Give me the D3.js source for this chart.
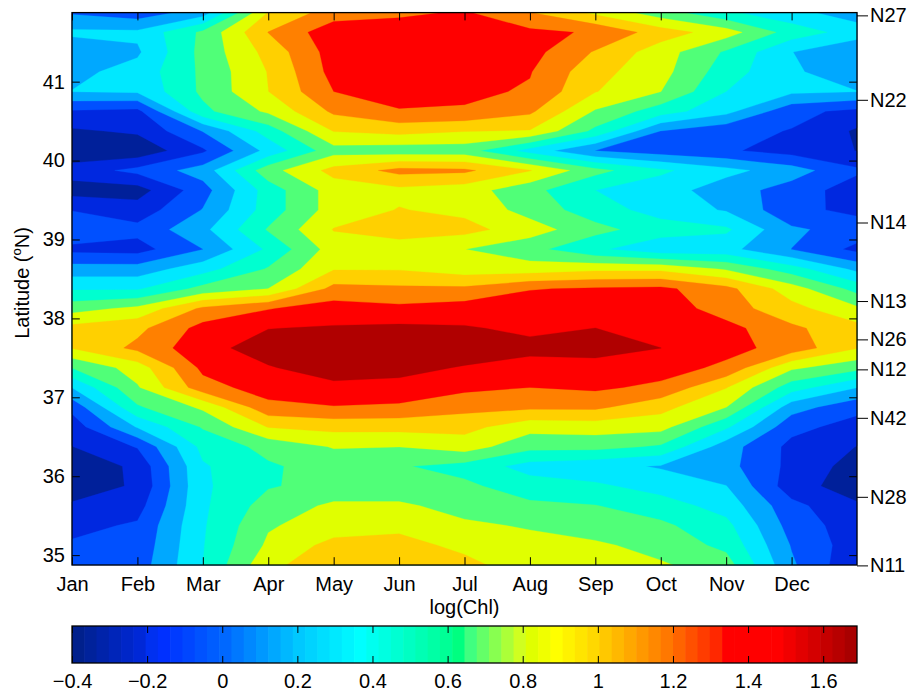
<!DOCTYPE html>
<html>
<head>
<meta charset="utf-8">
<script src="https://cdn.jsdelivr.net/npm/d3@7"></script>
<style>
  body { margin: 0; background: #fff; }
  text { font-family: "Liberation Sans", Arial, Helvetica, sans-serif; }
</style>
</head>
<body>
<svg id="chart" width="908" height="691"></svg>
<script>
(function() {
    'use strict';

    // ---- data ----
    const months = ['Jan', 'Feb', 'Mar', 'Apr', 'May', 'Jun', 'Jul', 'Aug', 'Sep', 'Oct', 'Nov', 'Dec'];
    const monthPos = [1, 2, 3, 4, 5, 6, 7, 8, 9, 10, 11, 12, 13];
    const lats = [41.875, 41.625, 41.375, 41.125, 40.875, 40.625, 40.375, 40.125, 39.875, 39.625,
                  39.375, 39.125, 38.875, 38.625, 38.375, 38.125, 37.875, 37.625, 37.375, 37.125,
                  36.875, 36.625, 36.375, 36.125, 35.875, 35.625, 35.375, 35.125, 34.875];
    // log(Chl), one row per latitude (north to south), one column per month position
    const chl = [
        [0.10, 0.02, 0.20, 1.00, 1.25, 1.30, 1.36, 1.17, 0.95, 0.72, 0.50, 0.35, 0.20],
        [0.33, 0.33, 0.68, 1.17, 1.45, 1.45, 1.45, 1.38, 1.32, 1.08, 0.90, 0.565, 0.39],
        [0.18, 0.27, 0.70, 1.05, 1.42, 1.48, 1.45, 1.40, 1.15, 0.90, 0.62, 0.30, 0.13],
        [0.25, 0.36, 0.68, 1.00, 1.40, 1.45, 1.42, 1.35, 1.05, 0.88, 0.55, 0.32, 0.20],
        [0.30, 0.32, 0.68, 0.99, 1.34, 1.40, 1.38, 1.32, 1.00, 0.82, 0.47, 0.33, 0.30],
        [-0.07, -0.10, 0.60, 0.85, 1.20, 1.33, 1.32, 1.20, 0.80, 0.55, 0.35, 0.00, -0.10],
        [-0.25, -0.20, 0.13, 0.55, 1.00, 1.05, 1.00, 0.98, 0.60, 0.12, 0.00, -0.06, -0.25],
        [-0.35, -0.35, -0.08, 0.35, 0.75, 0.72, 0.72, 0.40, 0.12, 0.03, -0.03, -0.12, -0.23],
        [-0.15, 0.00, 0.20, 0.75, 1.05, 1.22, 1.20, 1.00, 0.70, 0.50, 0.35, 0.20, -0.02],
        [-0.30, -0.30, 0.05, 0.55, 0.90, 0.95, 0.90, 0.70, 0.47, 0.38, 0.20, 0.05, -0.15],
        [-0.06, -0.15, 0.13, 0.55, 0.90, 1.00, 0.95, 0.75, 0.55, 0.40, 0.28, 0.00, -0.10],
        [0.09, 0.00, 0.25, 0.66, 1.00, 1.08, 1.05, 0.90, 0.70, 0.55, 0.50, 0.15, 0.05],
        [-0.10, -0.12, 0.12, 0.50, 0.90, 0.90, 0.82, 0.70, 0.50, 0.35, 0.35, 0.12, -0.10],
        [0.20, 0.20, 0.40, 0.66, 0.98, 0.98, 0.90, 0.90, 0.95, 0.95, 0.80, 0.55, 0.25],
        [0.45, 0.45, 0.70, 0.82, 1.22, 1.20, 1.20, 1.33, 1.36, 1.38, 1.22, 0.90, 0.58],
        [0.75, 0.86, 1.20, 1.33, 1.42, 1.38, 1.42, 1.45, 1.45, 1.45, 1.25, 1.05, 0.85],
        [1.05, 1.12, 1.40, 1.51, 1.53, 1.55, 1.53, 1.48, 1.515, 1.45, 1.40, 1.20, 1.05],
        [1.00, 1.21, 1.45, 1.60, 1.65, 1.66, 1.62, 1.56, 1.58, 1.515, 1.40, 1.27, 1.00],
        [0.65, 0.90, 1.38, 1.50, 1.60, 1.57, 1.50, 1.45, 1.45, 1.42, 1.30, 0.85, 0.70],
        [0.30, 0.80, 1.27, 1.42, 1.47, 1.46, 1.38, 1.34, 1.37, 1.30, 1.00, 0.55, 0.30],
        [0.00, 0.62, 0.85, 1.29, 1.33, 1.31, 1.22, 1.20, 1.20, 1.05, 0.82, 0.20, 0.00],
        [-0.15, 0.31, 0.66, 1.00, 1.05, 1.05, 1.05, 0.88, 0.90, 0.88, 0.50, 0.00, -0.12],
        [-0.23, -0.04, 0.52, 0.70, 0.83, 0.82, 0.90, 0.70, 0.70, 0.62, 0.20, -0.10, -0.23],
        [-0.38, -0.18, 0.45, 0.62, 0.72, 0.66, 0.58, 0.40, 0.35, 0.28, 0.18, -0.10, -0.30],
        [-0.33, -0.20, 0.44, 0.63, 0.70, 0.70, 0.68, 0.55, 0.50, 0.40, 0.30, -0.15, -0.32],
        [-0.20, -0.12, 0.44, 0.72, 0.85, 0.85, 0.75, 0.68, 0.65, 0.55, 0.40, 0.00, -0.20],
        [-0.10, -0.03, 0.45, 0.80, 0.90, 0.95, 0.85, 0.80, 0.72, 0.68, 0.52, 0.05, -0.15],
        [-0.03, 0.00, 0.46, 0.85, 1.05, 1.05, 0.95, 0.88, 0.85, 0.75, 0.60, 0.11, -0.15],
        [0.00, 0.03, 0.47, 0.95, 1.10, 1.10, 1.04, 0.90, 0.88, 0.84, 0.72, 0.15, -0.20]
    ];
    const levels = [-0.226, -0.052, 0.122, 0.296, 0.47, 0.644, 0.818, 0.992, 1.166, 1.34, 1.514];
    const levelColors = ['#00209a', '#0028e0', '#0050ff', '#00a8ff', '#00e8ff', '#00ffd0',
                         '#50ff78', '#e0ff00', '#ffd000', '#ff8000', '#ff0000', '#b00000'];
    const latTicks = [35, 36, 37, 38, 39, 40, 41];
    const stations = ['N27', 'N22', 'N14', 'N13', 'N26', 'N12', 'N42', 'N28', 'N11'];
    const stationLats = [41.84, 40.77, 39.215, 38.22, 37.734, 37.354, 36.74, 35.739, 34.87];
    const cbDomain = [-0.4, 1.69];
    const cbTicks = [-0.4, -0.2, 0, 0.2, 0.4, 0.6, 0.8, 1, 1.2, 1.4, 1.6];

    // 64-step colormap used by the colour bar
    const cmapStops = [[0, '#00208c'], [5, '#0028d7'], [6, '#0030f0'], [7, '#0030ff'], [12, '#0068ff'],
        [18, '#00c8ff'], [23, '#00ffff'], [30, '#00ff96'], [31, '#00ff80'], [32, '#40ff80'],
        [36, '#d0ff20'], [37, '#e0ff00'], [39, '#ffff00'], [42, '#ffd800'], [48, '#ff7800'],
        [52, '#ff2800'], [53, '#ff0000'], [57, '#ff0000'], [63, '#a80000']];
    function cmap(i) {
        for (let k = 1; k < cmapStops.length; k++) {
            const a = cmapStops[k - 1], b = cmapStops[k];
            if (i <= b[0]) return d3.interpolateRgb(a[1], b[1])((i - a[0]) / (b[0] - a[0]));
        }
        return cmapStops[cmapStops.length - 1][1];
    }

    // ---- layout ----
    const left = 72, right = 857, top = 12.6, bottom = 565;
    const cbTop = 626, cbBottom = 663;
    const tick = 7.8;

    const svg = d3.select('#chart');
    const x = d3.scaleLinear().domain([1, 13]).range([left, right]);
    const y = d3.scaleLinear().domain([34.875, 41.875]).range([bottom, top]);

    // ---- filled contours ----
    const n = monthPos.length, m = lats.length;
    const colMonth = d3.scaleLinear().domain(d3.range(n)).range(monthPos);
    const rowLat = d3.scaleLinear().domain(d3.range(m)).range(lats);
    const proj = d3.geoTransform({
        point: function(px, py) {
            const i = Math.max(0, Math.min(n - 1, px - 0.5));
            const j = Math.max(0, Math.min(m - 1, py - 0.5));
            this.stream.point(x(colMonth(i)), y(rowLat(j)));
        }
    });
    const path = d3.geoPath(proj);
    const contours = d3.contours().size([n, m]).thresholds(levels)(chl.flat());

    const plot = svg.append('g');
    plot.append('rect')
        .attr('x', left).attr('y', top)
        .attr('width', right - left).attr('height', bottom - top)
        .attr('fill', levelColors[0]);
    plot.selectAll('path')
        .data(contours)
        .enter()
        .append('path')
        .attr('d', path)
        .attr('fill', (d, i) => levelColors[i + 1])
        .attr('stroke', (d, i) => levelColors[i + 1])
        .attr('stroke-width', 0.3);

    // ---- axes ----
    const fs = 20;
    function styleAxis(g) {
        g.select('.domain').remove();
        g.selectAll('line').attr('stroke', '#000').attr('stroke-width', 1);
        g.selectAll('text').attr('fill', '#000').style('font-size', fs + 'px')
            .style('font-family', '"Liberation Sans", Arial, Helvetica, sans-serif');
    }

    svg.append('g')
        .attr('transform', `translate(0,${bottom})`)
        .call(d3.axisBottom(x).tickValues(monthPos.slice(0, 12)).tickFormat((d, i) => months[i])
            .tickSizeInner(-tick).tickSizeOuter(0).tickPadding(12))
        .call(styleAxis);
    svg.append('g')
        .attr('transform', `translate(0,${top})`)
        .call(d3.axisTop(x).tickValues(monthPos.slice(0, 12)).tickFormat('')
            .tickSizeInner(-tick).tickSizeOuter(0))
        .call(styleAxis);
    svg.append('g')
        .attr('transform', `translate(${left},0)`)
        .call(d3.axisLeft(y).tickValues(latTicks).tickFormat(d3.format('d'))
            .tickSizeInner(-tick).tickSizeOuter(0).tickPadding(7))
        .call(styleAxis);
    svg.append('g')
        .attr('transform', `translate(${right},0)`)
        .call(d3.axisRight(y).tickValues(latTicks).tickFormat('')
            .tickSizeInner(-tick).tickSizeOuter(0))
        .call(styleAxis);
    svg.append('g')
        .attr('transform', `translate(${right},0)`)
        .call(d3.axisRight(y).tickValues(stationLats).tickFormat((d, i) => stations[i])
            .tickSizeInner(11).tickSizeOuter(0).tickPadding(2))
        .call(styleAxis);

    svg.append('rect')
        .attr('x', left).attr('y', top)
        .attr('width', right - left).attr('height', bottom - top)
        .attr('fill', 'none').attr('stroke', '#000').attr('stroke-width', 1.3);

    svg.append('text')
        .attr('x', (left + right) / 2).attr('y', 614)
        .attr('text-anchor', 'middle')
        .style('font-size', fs + 'px')
        .text('log(Chl)');

    const yl = svg.append('text')
        .attr('transform', 'translate(29,283) rotate(-90)')
        .attr('text-anchor', 'middle')
        .style('font-size', fs + 'px');
    yl.append('tspan').text('Latitude (');
    yl.append('tspan').attr('dy', -8).style('font-size', '13px').text('o');
    yl.append('tspan').attr('dy', 8).text('N)');

    // ---- colour bar ----
    const cb = d3.scaleLinear().domain(cbDomain).range([left, right]);
    const nColors = 64, bw = (right - left) / nColors;
    svg.append('g').selectAll('rect')
        .data(d3.range(nColors))
        .enter()
        .append('rect')
        .attr('x', i => left + i * bw)
        .attr('y', cbTop)
        .attr('width', i => i === nColors - 1 ? bw : bw + 0.6)
        .attr('height', cbBottom - cbTop)
        .attr('fill', i => cmap(i));
    svg.append('g')
        .attr('transform', `translate(0,${cbBottom})`)
        .call(d3.axisBottom(cb).tickValues(cbTicks).tickFormat(d3.format('~g'))
            .tickSizeInner(-7).tickSizeOuter(0).tickPadding(11))
        .call(styleAxis);
    svg.append('g')
        .attr('transform', `translate(0,${cbTop})`)
        .call(d3.axisTop(cb).tickValues(cbTicks).tickFormat('')
            .tickSizeInner(-7).tickSizeOuter(0))
        .call(styleAxis);
    svg.append('rect')
        .attr('x', left).attr('y', cbTop)
        .attr('width', right - left).attr('height', cbBottom - cbTop)
        .attr('fill', 'none').attr('stroke', '#000').attr('stroke-width', 1.3);
})();
</script>
</body>
</html>
